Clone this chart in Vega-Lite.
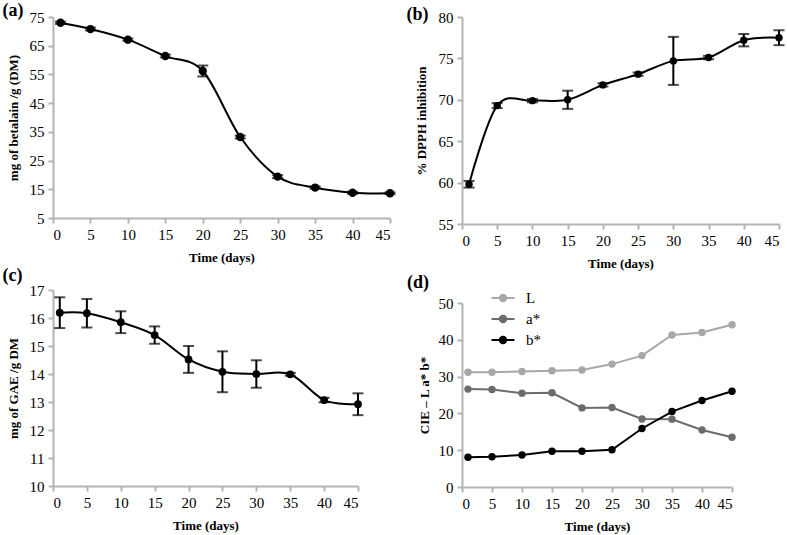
{
  "$schema": "https://vega.github.io/schema/vega-lite/v6.json",
  "padding": {"left": 2, "top": 2, "right": 2, "bottom": 3},
  "spacing": 10,
  "datasets": {
    "a": [
      {"day": 1, "val": 73, "err": 0.4},
      {"day": 5, "val": 70.8, "err": 0.5},
      {"day": 10, "val": 67.1, "err": 0.4},
      {"day": 15, "val": 61.4, "err": 0.5},
      {"day": 20, "val": 56.2, "err": 1.9},
      {"day": 25, "val": 33.2, "err": 0.5},
      {"day": 30, "val": 19.4, "err": 0.5},
      {"day": 35, "val": 15.6, "err": 0.4},
      {"day": 40, "val": 13.8, "err": 0.4},
      {"day": 45, "val": 13.6, "err": 0.3}
    ],
    "b": [
      {"day": 1, "val": 59.8, "err": 0.4},
      {"day": 5, "val": 69.3, "err": 0.3},
      {"day": 10, "val": 69.9, "err": 0.2},
      {"day": 15, "val": 70.0, "err": 1.1},
      {"day": 20, "val": 71.8, "err": 0.2},
      {"day": 25, "val": 73.1, "err": 0.2},
      {"day": 30, "val": 74.7, "err": 2.9},
      {"day": 35, "val": 75.1, "err": 0.2},
      {"day": 40, "val": 77.2, "err": 0.75},
      {"day": 45, "val": 77.5, "err": 0.9}
    ],
    "c": [
      {"day": 1, "val": 16.19, "err": 0.55},
      {"day": 5, "val": 16.17, "err": 0.51},
      {"day": 10, "val": 15.85, "err": 0.39},
      {"day": 15, "val": 15.39, "err": 0.31},
      {"day": 20, "val": 14.52, "err": 0.48},
      {"day": 25, "val": 14.08, "err": 0.73},
      {"day": 30, "val": 14.0, "err": 0.49},
      {"day": 35, "val": 13.99, "err": 0.05},
      {"day": 40, "val": 13.07, "err": 0.08},
      {"day": 45, "val": 12.92, "err": 0.39}
    ],
    "d": [
      {"day": 1, "param": "L", "val": 31.2},
      {"day": 5, "param": "L", "val": 31.2},
      {"day": 10, "param": "L", "val": 31.4},
      {"day": 15, "param": "L", "val": 31.6},
      {"day": 20, "param": "L", "val": 31.8},
      {"day": 25, "param": "L", "val": 33.4},
      {"day": 30, "param": "L", "val": 35.7},
      {"day": 35, "param": "L", "val": 41.3},
      {"day": 40, "param": "L", "val": 42.0},
      {"day": 45, "param": "L", "val": 44.1},
      {"day": 1, "param": "a*", "val": 26.6},
      {"day": 5, "param": "a*", "val": 26.5},
      {"day": 10, "param": "a*", "val": 25.5},
      {"day": 15, "param": "a*", "val": 25.6},
      {"day": 20, "param": "a*", "val": 21.5},
      {"day": 25, "param": "a*", "val": 21.6},
      {"day": 30, "param": "a*", "val": 18.5},
      {"day": 35, "param": "a*", "val": 18.4},
      {"day": 40, "param": "a*", "val": 15.5},
      {"day": 45, "param": "a*", "val": 13.5},
      {"day": 1, "param": "b*", "val": 8.1},
      {"day": 5, "param": "b*", "val": 8.2},
      {"day": 10, "param": "b*", "val": 8.7},
      {"day": 15, "param": "b*", "val": 9.7},
      {"day": 20, "param": "b*", "val": 9.7},
      {"day": 25, "param": "b*", "val": 10.1},
      {"day": 30, "param": "b*", "val": 15.9},
      {"day": 35, "param": "b*", "val": 20.5},
      {"day": 40, "param": "b*", "val": 23.5},
      {"day": 45, "param": "b*", "val": 26.0}
    ]
  },
  "config": {
    "view": {"stroke": null},
    "font": "Liberation Serif",
    "axis": {
      "grid": false,
      "domainColor": "#b4b4b4",
      "domainWidth": 2,
      "tickColor": "#b4b4b4",
      "tickWidth": 2,
      "tickSize": 5,
      "labelFont": "Liberation Serif",
      "labelFontSize": 15,
      "labelColor": "black",
      "labelPadding": 4,
      "titleFont": "Liberation Serif",
      "titleFontSize": 13,
      "titleFontWeight": "bold",
      "titleColor": "black",
      "titlePadding": 9
    },
    "title": {
      "font": "Liberation Serif",
      "fontSize": 18,
      "fontWeight": "bold",
      "color": "black",
      "anchor": "start",
      "frame": "bounds",
      "offset": 0
    },
    "legend": {
      "labelFont": "Liberation Serif",
      "labelFontSize": 15,
      "labelColor": "black"
    }
  },
  "hconcat": [
    {
      "spacing": 3,
      "vconcat": [
        {
          "title": {"text": "(a)", "dx": -4.5, "dy": 14},
          "width": 337,
          "height": 201,
          "data": {"name": "a"},
          "encoding": {
            "x": {"field": "day", "type": "quantitative", "scale": {"domain": [0, 45], "nice": false}, "axis": {"values": [0, 5, 10, 15, 20, 25, 30, 35, 40, 45], "title": "Time (days)"}},
            "y": {"field": "val", "type": "quantitative", "scale": {"domain": [5, 75], "nice": false, "zero": false}, "axis": {"values": [5, 15, 25, 35, 45, 55, 65, 75], "title": "mg of betalain /g (DM)"}}
          },
          "layer": [
            {"mark": {"type": "line", "interpolate": "cardinal", "color": "black", "strokeWidth": 2}},
            {"mark": {"type": "errorbar", "ticks": true, "size": 11, "thickness": 2, "color": "black"}, "encoding": {"yError": {"field": "err"}}},
            {"mark": {"type": "point", "filled": true, "color": "black", "size": 70, "opacity": 1}}
          ]
        },
        {
          "title": {"text": "(c)", "dx": -4.5, "dy": 6},
          "width": 305,
          "height": 196,
          "data": {"name": "c"},
          "encoding": {
            "x": {"field": "day", "type": "quantitative", "scale": {"domain": [0, 45], "nice": false}, "axis": {"values": [0, 5, 10, 15, 20, 25, 30, 35, 40, 45], "title": "Time (days)"}},
            "y": {"field": "val", "type": "quantitative", "scale": {"domain": [10, 17], "nice": false, "zero": false}, "axis": {"values": [10, 11, 12, 13, 14, 15, 16, 17], "title": "mg of GAE /g DM"}}
          },
          "layer": [
            {"mark": {"type": "line", "interpolate": "cardinal", "color": "black", "strokeWidth": 2}},
            {"mark": {"type": "errorbar", "ticks": true, "size": 11, "thickness": 2, "color": "black"}, "encoding": {"yError": {"field": "err"}}},
            {"mark": {"type": "point", "filled": true, "color": "black", "size": 60, "opacity": 1}}
          ]
        }
      ]
    },
    {
      "spacing": 4,
      "vconcat": [
        {
          "title": {"text": "(b)", "dx": -8.5, "dy": 18},
          "width": 317,
          "height": 207,
          "data": {"name": "b"},
          "encoding": {
            "x": {"field": "day", "type": "quantitative", "scale": {"domain": [0, 45], "nice": false}, "axis": {"values": [0, 5, 10, 15, 20, 25, 30, 35, 40, 45], "title": "Time (days)"}},
            "y": {"field": "val", "type": "quantitative", "scale": {"domain": [55, 80], "nice": false, "zero": false}, "axis": {"values": [55, 60, 65, 70, 75, 80], "title": "% DPPH inhibition", "titlePadding": 10}}
          },
          "layer": [
            {"mark": {"type": "line", "interpolate": "cardinal", "color": "black", "strokeWidth": 2}},
            {"mark": {"type": "errorbar", "ticks": true, "size": 11, "thickness": 2, "color": "black"}, "encoding": {"yError": {"field": "err"}}},
            {"mark": {"type": "point", "filled": true, "color": "black", "size": 55, "opacity": 1}}
          ]
        },
        {
          "title": {"text": "(d)", "dx": -11, "dy": 0},
          "width": 270,
          "height": 184,
          "data": {"name": "d"},
          "encoding": {
            "x": {"field": "day", "type": "quantitative", "scale": {"domain": [0, 45], "nice": false}, "axis": {"values": [0, 5, 10, 15, 20, 25, 30, 35, 40, 45], "title": "Time (days)"}},
            "y": {"field": "val", "type": "quantitative", "scale": {"domain": [0, 50], "nice": false}, "axis": {"values": [0, 10, 20, 30, 40, 50], "title": "CIE – L a* b*", "titlePadding": 7}}
          },
          "layer": [
            {
              "mark": {"type": "line", "strokeWidth": 2},
              "encoding": {
                "color": {
                  "field": "param", "type": "nominal",
                  "scale": {"domain": ["L", "a*", "b*"], "range": ["#a8a8a8", "#6c6c6c", "#000000"]},
                  "legend": {
                    "title": null, "orient": "none", "legendX": 437, "legendY": 268,
                    "symbolType": "M-1,0H1M0.28,0A0.28,0.28,0,1,1,-0.28,0A0.28,0.28,0,1,1,0.28,0",
                    "symbolSize": 530, "symbolStrokeWidth": 2, "rowPadding": 0, "labelOffset": 10
                  }
                }
              }
            },
            {
              "mark": {"type": "point", "filled": true, "size": 55, "opacity": 1},
              "encoding": {
                "fill": {
                  "field": "param", "type": "nominal",
                  "scale": {"domain": ["L", "a*", "b*"], "range": ["#a8a8a8", "#6c6c6c", "#000000"]},
                  "legend": null
                }
              }
            }
          ]
        }
      ]
    }
  ]
}
